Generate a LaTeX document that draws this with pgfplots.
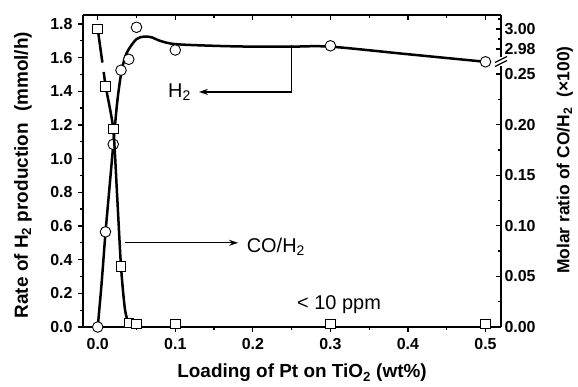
\documentclass[border=0pt]{standalone}
\usepackage{pgfplots}
\pgfplotsset{compat=1.18}
\usepackage{fontspec}
\setmainfont{Liberation Sans}
\usetikzlibrary{arrows.meta}

\begin{document}
\begin{tikzpicture}
\pgfplotsset{
  every axis/.append style={
    scale only axis, width=418bp, height=312bp,
    xmin=-0.019, xmax=0.52,
    axis line style={-, line width=2bp},
    every outer x axis line/.append style={-},
    every outer y axis line/.append style={-},
    major tick length=5bp, minor tick length=3bp,
    every tick/.append style={black, line width=1.3bp},
    /pgf/number format/assume math mode=true,
    tick label style={font=\fontsize{16}{18}\selectfont\bfseries},
    label style={font=\fontsize{19}{22}\selectfont\bfseries},
    clip=false,
  }
}
% ---------- left axis: H2 production rate ----------
\begin{axis}[
  ymin=0, ymax=1.853,
  axis x line*=bottom, axis y line*=left,
  tick align=outside,
  xtick={0,0.1,0.2,0.3,0.4,0.5},
  xticklabels={0.0,0.1,0.2,0.3,0.4,0.5},
  minor xtick={0.05,0.15,0.25,0.35,0.45},
  ytick={0,0.2,0.4,0.6,0.8,1.0,1.2,1.4,1.6,1.8},
  yticklabels={0.0,0.2,0.4,0.6,0.8,1.0,1.2,1.4,1.6,1.8},
  minor ytick={0.1,0.3,0.5,0.7,0.9,1.1,1.3,1.5,1.7},
  xticklabel style={yshift=-3bp},
  yticklabel style={xshift=-2bp},
  xlabel={Loading of Pt on TiO\textsubscript{2} (wt\%)},
  ylabel={Rate of H\textsubscript{2} production\hspace{0.6em}(mmol/h)},
  xlabel style={at={(axis description cs:0.524,-0.147)}, anchor=center},
  ylabel style={at={(axis description cs:-0.1435,0.487)}, anchor=center},
]
\coordinate (sw) at (rel axis cs:0,0);
% fitted curve for H2
\addplot[line width=2.5bp, smooth, tension=0.5] coordinates {
  (0,0) (0.005,0.26) (0.01,0.56) (0.015,0.82) (0.02,1.08) (0.025,1.33)
  (0.03,1.50) (0.035,1.60) (0.04,1.65) (0.05,1.71) (0.06,1.725) (0.07,1.72)
  (0.08,1.70) (0.1,1.68) (0.15,1.67) (0.2,1.665) (0.25,1.665) (0.3,1.665)
  (0.4,1.62) (0.5,1.575)
};
% measured H2 rates
\addplot[only marks, mark=*, mark size=5.3bp,
  mark options={fill=white, draw=black, line width=0.9bp}] coordinates {
  (0,0) (0.01,0.565) (0.02,1.085) (0.03,1.525) (0.04,1.59) (0.05,1.78)
  (0.1,1.645) (0.3,1.67) (0.5,1.575)
};
\draw[line width=1.3bp, -{Stealth[length=9bp,width=6bp]}]
  (axis cs:0.25,1.675) -- (axis cs:0.25,1.396) -- (axis cs:0.1305,1.396);
\draw[line width=1.3bp, -{Stealth[length=9bp,width=6bp]}]
  (axis cs:0.035,0.5) -- (axis cs:0.181,0.5);
\node[anchor=base west, inner sep=0, font=\fontsize{20}{24}\selectfont]
  at (axis cs:0.0906,1.365) {H\textsubscript{2}};
\node[anchor=base west, inner sep=0, font=\fontsize{20}{24}\selectfont]
  at (axis cs:0.192,0.441) {CO/H\textsubscript{2}};
\node[anchor=base west, inner sep=0, font=\fontsize{20}{24}\selectfont]
  at (axis cs:0.257,0.105) {< 10 ppm};
\end{axis}
% ---------- right axis: CO/H2 ratio (broken: top part shifted by -2.7053) ----------
\begin{axis}[
  ymin=0, ymax=0.3083,
  axis y line*=right, axis x line=none,
  tick align=inside,
  ytick={0,0.05,0.10,0.15,0.20,0.25,0.2747,0.2945},
  yticklabels={0.00,0.05,0.10,0.15,0.20,0.25,2.98,3.00},
  minor ytick={0.025,0.075,0.125,0.175,0.225,0.2846,0.3044},
  ylabel={Molar ratio of CO/H\textsubscript{2}\hspace{0.6em}(×100)},
  ylabel style={font=\fontsize{17.5}{20}\selectfont\bfseries,
    at={(axis description cs:1.153,0.535)}, anchor=center},
]
% CO/H2 line (value 3.00 drawn on the upper, shifted segment)
\addplot[line width=2.5bp] coordinates {(0,0.2945) (0.006,0.2613)};
\addplot[line width=2.5bp, smooth, tension=0.4] coordinates {
  (0.0077,0.252) (0.0103,0.2375) (0.02,0.1957) (0.025,0.13) (0.03,0.0596)
  (0.035,0.018) (0.04,0.003) (0.045,0)
};
\addplot[line width=2.5bp] coordinates {(0.045,0) (0.366,0)};
\addplot[only marks, mark=square*, mark size=4.8bp,
  mark options={fill=white, draw=black, line width=0.9bp}] coordinates {
  (0,0.2945) (0.01,0.2375) (0.02,0.1957) (0.03,0.0596) (0.04,0.004)
  (0.05,0.003) (0.1,0.003) (0.3,0.003) (0.5,0.003)
};
% axis break marks
\fill[white] ([xshift=-3bp]rel axis cs:1,0.837) rectangle ([xshift=3bp]rel axis cs:1,0.865);
\draw[line width=1.3bp] ([shift={(-6bp,-5bp)}]rel axis cs:1,0.851) -- ([shift={(6bp,1bp)}]rel axis cs:1,0.851);
\draw[line width=1.3bp] ([shift={(-6bp,-1bp)}]rel axis cs:1,0.851) -- ([shift={(6bp,5bp)}]rel axis cs:1,0.851);
\end{axis}
% ---------- top axis ticks ----------
\begin{axis}[
  ymin=0, ymax=1,
  axis x line*=top, axis y line=none,
  tick align=inside,
  xtick={0,0.1,0.2,0.3,0.4,0.5}, xticklabels={},
  minor xtick={0.05,0.15,0.25,0.35,0.45},
]
\end{axis}
\pgfresetboundingbox
\path ([shift={(-83bp,-60bp)}]sw) rectangle ([shift={(495bp,327bp)}]sw);
\end{tikzpicture}
\end{document}
